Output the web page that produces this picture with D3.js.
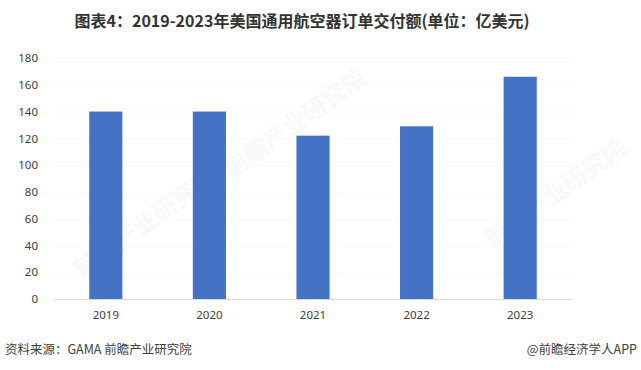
<!DOCTYPE html>
<html>
<head>
<meta charset="utf-8">
<script src="https://cdn.jsdelivr.net/npm/d3@7"></script>
<style>
  body { margin: 0; background: #fff; }
  svg { display: block; font-family: "Noto Sans CJK SC", "Noto Sans", sans-serif; }
</style>
</head>
<body>
<div id="chart"></div>
<script>
// data
var years = ["2019", "2020", "2021", "2022", "2023"];
var values = [140, 140, 122, 129, 166];
var yTicks = [0, 20, 40, 60, 80, 100, 120, 140, 160, 180];

var width = 641, height = 370;
var margin = { top: 58, right: 69, bottom: 71, left: 54 };

var svg = d3.select("#chart")
	.append("svg")
	.attr("width", width)
	.attr("height", height);

// faint watermarks
var marks = [
	{ x: 150, y: 230, r: -35 },
	{ x: 300, y: 130, r: -35 },
	{ x: 560, y: 200, r: -35 }
];
svg.selectAll("text.wm")
	.data(marks)
	.enter()
	.append("text")
	.attr("class", "wm")
	.attr("transform", function(d) { return "translate(" + d.x + "," + d.y + ") rotate(" + d.r + ")"; })
	.attr("text-anchor", "middle")
	.attr("font-size", 24)
	.attr("font-weight", "bold")
	.attr("fill", "#1f4e8c")
	.attr("opacity", 0.035)
	.text("前瞻产业研究院");

var x = d3.scaleBand()
	.domain(years)
	.range([margin.left, width - margin.right])
	.paddingInner(0.68)
	.paddingOuter(0.34);

var y = d3.scaleLinear()
	.domain([0, 180])
	.range([height - margin.bottom, margin.top]);

// faint grid
svg.append("g")
	.selectAll("line")
	.data(yTicks.slice(1))
	.enter()
	.append("line")
	.attr("x1", margin.left)
	.attr("x2", width - margin.right)
	.attr("y1", function(d) { return y(d) + 0.5; })
	.attr("y2", function(d) { return y(d) + 0.5; })
	.attr("stroke", "#f8f8f8");

// bars
svg.append("g")
	.selectAll("rect")
	.data(values)
	.enter()
	.append("rect")
	.attr("x", function(d, i) { return x(years[i]); })
	.attr("width", x.bandwidth())
	.attr("y", function(d) { return y(d); })
	.attr("height", function(d) { return y(0) - y(d); })
	.attr("fill", "#4472c4");

// y axis
var yAxis = svg.append("g")
	.attr("transform", "translate(" + margin.left + ",0)")
	.call(d3.axisLeft(y).tickValues(yTicks).tickSize(0).tickPadding(16));
yAxis.select(".domain").remove();
yAxis.selectAll("text")
	.attr("font-size", 11.5)
	.attr("fill", "#404040")
	.attr("font-family", "'Noto Sans', sans-serif");

// x axis
var xAxis = svg.append("g")
	.attr("transform", "translate(0," + y(0) + ")")
	.call(d3.axisBottom(x).tickSize(0).tickPadding(12));
xAxis.select(".domain")
	.attr("stroke", "#d9d9d9");
xAxis.selectAll("text")
	.attr("font-size", 11.5)
	.attr("fill", "#404040")
	.attr("font-family", "'Noto Sans', sans-serif");

// title
svg.append("text")
	.attr("x", 302)
	.attr("y", 27)
	.attr("text-anchor", "middle")
	.attr("font-size", 16)
	.attr("font-weight", "bold")
	.attr("fill", "#333")
	.text("图表4：2019-2023年美国通用航空器订单交付额(单位：亿美元)");

// footer
svg.append("text")
	.attr("x", 5)
	.attr("y", 354)
	.attr("font-size", 12.5)
	.attr("fill", "#404040")
	.text("资料来源：GAMA 前瞻产业研究院");

svg.append("text")
	.attr("x", 637)
	.attr("y", 354)
	.attr("text-anchor", "end")
	.attr("font-size", 12.5)
	.attr("fill", "#404040")
	.text("@前瞻经济学人APP");
</script>
</body>
</html>
